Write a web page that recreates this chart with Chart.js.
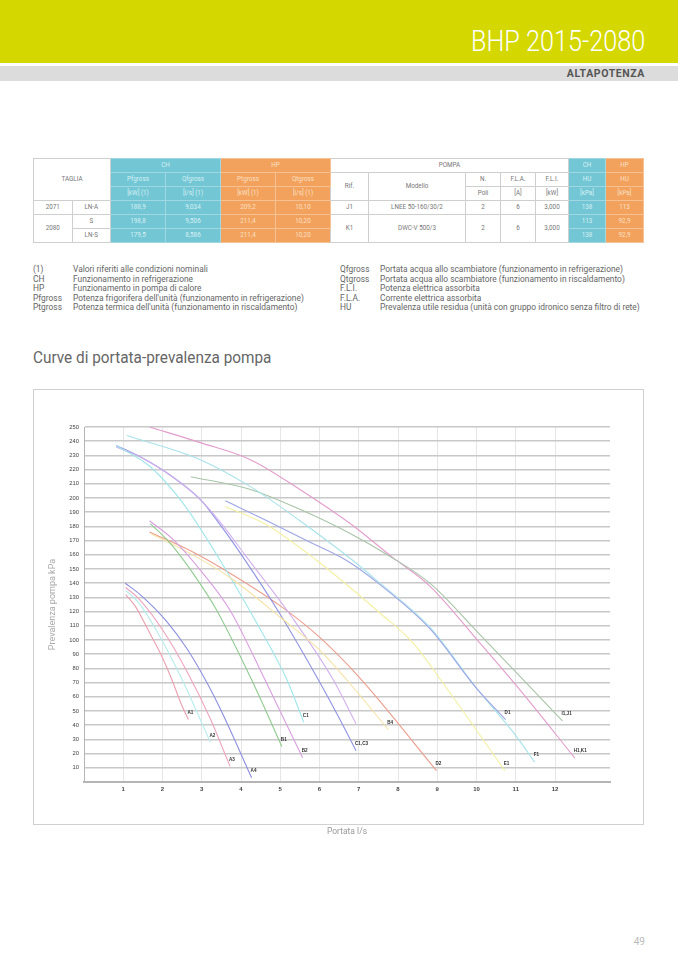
<!DOCTYPE html>
<html>
<head>
<meta charset="utf-8">
<script src="https://cdn.jsdelivr.net/npm/chart.js@4.4.0/dist/chart.umd.min.js"></script>
<style>
  body { margin: 0; width: 678px; height: 959px; position: relative; background: #fff; font-family: Roboto, 'Open Sans', sans-serif; color: #666; overflow: hidden; }
  .band { position: absolute; left: 0; top: 0; width: 678px; height: 63px; background: #d4d800; }
  .band h1 { position: absolute; right: 33px; top: 26px; margin: 0; font-weight: 300; font-size: 29px; line-height: 30px; color: #fff; transform: scaleX(0.87); transform-origin: right center; }
  .strip { position: absolute; left: 0; top: 66px; width: 678px; height: 15px; background: #dcdcdc; }
  .strip span { position: absolute; right: 33px; top: 2px; font-size: 10.5px; font-weight: 700; color: #555; line-height: 12px; letter-spacing: 0.6px; }
  table.spec { position: absolute; left: 33px; top: 158px; border-collapse: collapse; table-layout: fixed; font-size: 6.3px; color: #777; }
  table.spec td { border: 0.6px solid #cfcfcf; text-align: center; padding: 0; height: 13px; line-height: 9px; }
  table.spec td.ch { background: #73c6d4; color: #d8f1f5; border-color: #9fd8e2; }
  table.spec td.hp { background: #f2a25c; color: #fbe0c8; border-color: #f6c293; }
  .notes { position: absolute; top: 265px; font-size: 8.4px; line-height: 9.6px; color: #666; }
  .notes div { white-space: nowrap; }
  .notes b { font-weight: 400; display: inline-block; width: 40px; }
  h2 { position: absolute; left: 33px; top: 348px; margin: 0; font-size: 16.5px; font-weight: 400; color: #666; transform: scaleX(0.93); transform-origin: left center; }
  .box { position: absolute; left: 33px; top: 389px; width: 611px; height: 436px; border: 1px solid #d0d0d0; box-sizing: border-box; }
  .wrap { position: absolute; left: 33px; top: 390px; width: 612px; height: 455px; }
  .page { position: absolute; right: 33px; top: 936px; font-size: 10px; color: #bbb; }
</style>
</head>
<body>
<div class="band"><h1>BHP 2015-2080</h1></div>
<div class="strip"><span>ALTAPOTENZA</span></div>

<table class="spec">
  <colgroup>
    <col style="width:38.5px"><col style="width:38.5px"><col style="width:55px"><col style="width:55px"><col style="width:55px"><col style="width:55px">
    <col style="width:38px"><col style="width:97px"><col style="width:35px"><col style="width:35px"><col style="width:33px"><col style="width:37px"><col style="width:38px">
  </colgroup>
  <tr><td colspan="2" rowspan="3">TAGLIA</td><td colspan="2" class="ch">CH</td><td colspan="2" class="hp">HP</td><td colspan="5">POMPA</td><td class="ch">CH</td><td class="hp">HP</td></tr>
  <tr><td class="ch">Pfgross</td><td class="ch">Qfgross</td><td class="hp">Ptgross</td><td class="hp">Qtgross</td><td rowspan="2">Rif.</td><td rowspan="2">Modello</td><td>N.</td><td>F.L.A.</td><td>F.L.I.</td><td class="ch">HU</td><td class="hp">HU</td></tr>
  <tr><td class="ch">[kW] (1)</td><td class="ch">[l/s] (1)</td><td class="hp">[kW] (1)</td><td class="hp">[l/s] (1)</td><td>Poli</td><td>[A]</td><td>[kW]</td><td class="ch">[kPa]</td><td class="hp">[kPa]</td></tr>
  <tr><td>2071</td><td>LN-A</td><td class="ch">188,9</td><td class="ch">9,034</td><td class="hp">209,2</td><td class="hp">10,10</td><td>J1</td><td>LNEE 50-160/30/2</td><td>2</td><td>6</td><td>3,000</td><td class="ch">138</td><td class="hp">113</td></tr>
  <tr><td rowspan="2">2080</td><td>S</td><td class="ch">198,8</td><td class="ch">9,506</td><td class="hp">211,4</td><td class="hp">10,20</td><td rowspan="2">K1</td><td rowspan="2">DWC-V 500/3</td><td rowspan="2">2</td><td rowspan="2">6</td><td rowspan="2">3,000</td><td class="ch">113</td><td class="hp">92,9</td></tr>
  <tr><td>LN-S</td><td class="ch">179,5</td><td class="ch">8,586</td><td class="hp">211,4</td><td class="hp">10,20</td><td class="ch">138</td><td class="hp">92,9</td></tr>
</table>

<div class="notes" style="left:33px">
  <div><b>(1)</b>Valori riferiti alle condizioni nominali</div>
  <div><b>CH</b>Funzionamento in refrigerazione</div>
  <div><b>HP</b>Funzionamento in pompa di calore</div>
  <div><b>Pfgross</b>Potenza frigorifera dell'unità (funzionamento in refrigerazione)</div>
  <div><b>Ptgross</b>Potenza termica dell'unità (funzionamento in riscaldamento)</div>
</div>
<div class="notes" style="left:340px">
  <div><b>Qfgross</b>Portata acqua allo scambiatore (funzionamento in refrigerazione)</div>
  <div><b>Qtgross</b>Portata acqua allo scambiatore (funzionamento in riscaldamento)</div>
  <div><b>F.L.I.</b>Potenza elettrica assorbita</div>
  <div><b>F.L.A.</b>Corrente elettrica assorbita</div>
  <div><b>HU</b>Prevalenza utile residua (unità con gruppo idronico senza filtro di rete)</div>
</div>

<h2>Curve di portata-prevalenza pompa</h2>
<div class="box"></div>
<div class="wrap"><canvas id="pumpChart" width="612" height="455"></canvas></div>
<div class="page">49</div>

<script>
// tick labels
const xTicks = [1, 2, 3, 4, 5, 6, 7, 8, 9, 10, 11, 12];
const yTicks = [10, 20, 30, 40, 50, 60, 70, 80, 90, 100, 110, 120, 130, 140, 150, 160, 170, 180, 190, 200, 210, 220, 230, 240, 250];

// pump curves, [portata l/s, prevalenza kPa]
const curveA1 = [[1.06, 132], [1.3, 124], [1.69, 104], [1.94, 91], [2.24, 72], [2.49, 54], [2.66, 44]];
const curveA2 = [[1.06, 135], [1.4, 126], [1.86, 106], [2.45, 75], [3.22, 28]];
const curveA3 = [[1.06, 137], [1.4, 129], [2.03, 106], [2.62, 78], [3.21, 45], [3.72, 11]];
const curveA4 = [[1.05, 140], [1.43, 132], [2.11, 113], [2.62, 94], [3.13, 70], [3.55, 47], [4.27, 3]];
const curveB1 = [[1.69, 182], [2.2, 168], [2.8, 146], [3.38, 121], [4.27, 72], [5.04, 25]];
const curveB2 = [[1.67, 184], [2.3, 170], [3.0, 148], [3.72, 121], [4.61, 72], [5.57, 17]];
const curveB4 = [[1.7, 175], [2.7, 161], [3.72, 144], [5.0, 116], [6.0, 93], [6.69, 72], [7.75, 37]];
const curveC1 = [[0.82, 237], [1.69, 222], [2.53, 196], [3.47, 156], [4.4, 112], [5.17, 72], [5.6, 42]];
const curveC2 = [[0.82, 236], [1.5, 228], [2.2, 216], [2.96, 199], [3.5, 182], [4.1, 160], [5.3, 116], [6.35, 72], [6.93, 41]];
const curveC3 = [[0.82, 237], [1.5, 228], [2.2, 216], [2.96, 199], [3.5, 180], [4.06, 158], [5.0, 118], [5.97, 72], [6.52, 44], [6.93, 22]];
const curveD1 = [[3.6, 198], [4.66, 184], [5.67, 170], [6.69, 156], [7.54, 139], [8.81, 108], [10.0, 66], [10.74, 44]];
const curveD2 = [[1.67, 176], [2.7, 163], [3.72, 147], [5.0, 124], [6.0, 102], [7.07, 72], [8.98, 8]];
const curveE1 = [[3.6, 194], [4.66, 181], [5.93, 156], [7.54, 119], [8.38, 98], [9.24, 66], [10.72, 8]];
const curveF1 = [[1.09, 244], [2.96, 227], [4.24, 208], [5.5, 184], [6.85, 156], [7.54, 140], [8.81, 109], [10.0, 66], [11.02, 32], [11.48, 14]];
const curveIJ = [[2.72, 215], [4.24, 206], [5.5, 192], [6.78, 175], [7.79, 159], [8.81, 140], [10.08, 104], [11.43, 65], [12.19, 43]];
const curveHK = [[1.67, 250], [2.96, 239], [4.24, 227], [5.5, 206], [6.78, 182], [7.87, 158], [8.81, 138], [10.08, 98], [11.1, 65], [12.5, 17]];

const curveNames = ['A1', 'A2', 'A3', 'A4', 'B1', 'B2', 'B4', 'C1', '', 'C1,C3', 'D1', 'D2', 'E1', 'F1', 'I1,J1', 'H1,K1'];
const curveData = [curveA1, curveA2, curveA3, curveA4, curveB1, curveB2, curveB4, curveC1, curveC2, curveC3, curveD1, curveD2, curveE1, curveF1, curveIJ, curveHK];
const curveColors = ['#ec9fb0', '#b5ecec', '#f0a3bf', '#8c8ee0', '#8fcb8f', '#d99ee0', '#f6e2a2', '#9fe6ea', '#d2b0ee', '#8f92e2',
                     '#9ea6e6', '#ec9c8c', '#f4f0a0', '#a6e2ea', '#a8c4a8', '#e39ccb'];

const endLabels = {
  id: 'endLabels',
  afterDatasetsDraw(chart) {
    const ctx = chart.ctx;
    ctx.save();
    ctx.font = 'bold 4.6px Arial, sans-serif';
    ctx.fillStyle = '#333';
    ctx.textBaseline = 'middle';
    chart.data.datasets.forEach((ds, i) => {
      if (!ds.tag) return;
      const pts = chart.getDatasetMeta(i).data;
      const p = pts[pts.length - 1];
      ctx.fillText(ds.tag, p.x - 1, p.y - 7);
    });
    ctx.restore();
  }
};

new Chart(document.getElementById('pumpChart'), {
  type: 'scatter',
  data: {
    datasets: curveData.map((d, i) => ({
      label: curveNames[i] || 'C2',
      tag: curveNames[i],
      data: d.map(p => ({ x: p[0], y: p[1] })),
      showLine: true,
      borderColor: curveColors[i],
      borderWidth: 1.1,
      pointRadius: 0,
      cubicInterpolationMode: 'monotone',
      fill: false
    }))
  },
  options: {
    responsive: false,
    animation: false,
    layout: { padding: { top: 37, right: 35, left: 0, bottom: 0 } },
    plugins: { legend: { display: false }, tooltip: { enabled: false } },
    scales: {
      x: {
        type: 'linear', min: 0, max: 13.4,
        afterBuildTicks: s => { s.ticks = [0].concat(xTicks).map(v => ({ value: v })); },
        afterFit: s => { s.height = 63; },
        ticks: { padding: 4, color: '#444', font: { size: 6, weight: 'bold', family: 'Arial' }, callback: v => (v === 0 ? '' : v), maxRotation: 0, autoSkip: false },
        grid: { color: '#e6e6e6', lineWidth: 1, tickLength: 0, drawTicks: false },
        border: { color: '#b5b5b5', width: 2 },
        title: { display: true, text: 'Portata l/s', color: '#999', font: { size: 8.5, family: 'Roboto' }, padding: { top: 0, bottom: 8 } }
      },
      y: {
        type: 'linear', min: 0, max: 250,
        afterBuildTicks: s => { s.ticks = [0].concat(yTicks).map(v => ({ value: v })); },
        afterFit: s => { s.width = 51; },
        ticks: { padding: 5, color: '#444', font: { size: 5.8, family: 'Arial' }, callback: v => (v === 0 ? '' : v), autoSkip: false },
        grid: { color: '#c8c8c8', lineWidth: 1.5, tickLength: 0, drawTicks: false },
        border: { color: '#b5b5b5', width: 1 },
        title: { display: true, text: 'Prevalenza pompa kPa', color: '#aaa', font: { size: 9, family: 'Roboto' }, padding: { top: 14, bottom: 0 } }
      }
    }
  },
  plugins: [endLabels]
});
</script>
</body>
</html>
